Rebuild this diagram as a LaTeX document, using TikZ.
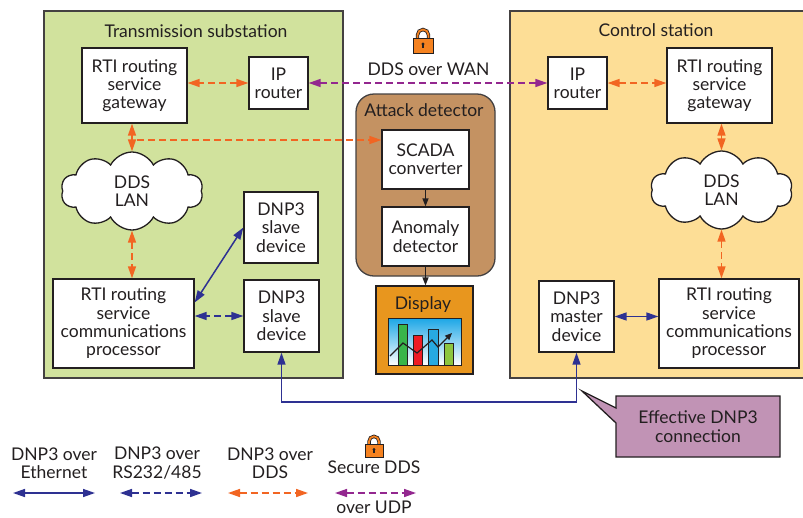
\documentclass[tikz,border=0pt]{standalone}
\usepackage{fontspec}
\setmainfont{Lato}
\usetikzlibrary{arrows.meta,shapes.symbols,calc}

\definecolor{ink}{HTML}{231F20}
\definecolor{subgreen}{HTML}{D1E29D}
\definecolor{ctrlyellow}{HTML}{FDDE96}
\definecolor{detbrown}{HTML}{C49262}
\definecolor{disporange}{HTML}{E8961E}
\definecolor{ddsorange}{HTML}{F26522}
\definecolor{wanpurple}{HTML}{93278F}
\definecolor{dnpblue}{HTML}{2E3192}
\definecolor{calloutmauve}{HTML}{C193B5}
\definecolor{lockorange}{HTML}{F58220}
\definecolor{barblue}{HTML}{27AAE1}
\definecolor{bargreen}{HTML}{39B54A}
\definecolor{barred}{HTML}{ED1C24}
\definecolor{barlime}{HTML}{8DC63F}
\definecolor{skyblue}{HTML}{1BA6E6}

\newcommand\diagfont{\fontsize{17.5}{18.3}\selectfont}

\tikzset{
  padlock/.pic={
    \draw[ink, line width=3.4pt] (-5.5,0) -- (-5.5,-3) arc[start angle=180,end angle=360,radius=5.5] -- (5.5,0);
    \draw[lockorange, line width=1.8pt] (-5.5,0.5) -- (-5.5,-3) arc[start angle=180,end angle=360,radius=5.5] -- (5.5,0.5);
    \draw[ink, line width=0.8pt, fill=lockorange] (-10,0) rectangle (10,15);
    \fill[ink] (0,6) circle[radius=1.7];
    \fill[ink] (-0.7,6) rectangle (0.7,10);
  }
}

\begin{document}
\begin{tikzpicture}[x=1pt,y=-1pt,
  >={Triangle[length=12pt,width=8pt]},
  txt/.style={text=ink,font=\diagfont,align=center,inner sep=0pt},
  box/.style={txt,draw=ink,line width=1.3pt,fill=white},
  cloudbox/.style={txt,cloud,cloud puffs=10,cloud puff arc=125,
    draw=ink,line width=1.3pt,fill=white,minimum width=142pt,minimum height=78pt},
  region/.style={draw=ink!85,line width=1.3pt},
  ddslink/.style={ddsorange,line width=1.5pt,dash pattern=on 7pt off 4pt},
  wanlink/.style={wanpurple,line width=1.5pt,dash pattern=on 7pt off 4pt},
  serlink/.style={dnpblue,line width=1.5pt,dash pattern=on 7pt off 4pt},
  ethlink/.style={dnpblue,line width=1.5pt},
  flow/.style={ink,line width=1.3pt,-{Triangle[length=8pt,width=6pt]}},
]
\useasboundingbox (0,0) rectangle (803,517);
\clip (0,0) rectangle (803,517);
\fill[white] (0,0) rectangle (803,517);

% ---------- site regions ----------
\draw[region,fill=subgreen] (44,11) rectangle (343,378);
\draw[region,fill=ctrlyellow] (510,11) rectangle (810,378);
\node[txt,anchor=base] (subtitle) at (196,37.5) {Transmission substation};
\node[txt,anchor=base] (ctrltitle) at (656,36.5) {Control station};

% ---------- attack detector ----------
\draw[region,fill=detbrown,rounded corners=18pt] (356,94) rectangle (495,276);
\node[txt,anchor=base] (dettitle) at (424,116) {Attack detector};
\node[box,minimum width=87pt,minimum height=59pt] (scada) at (425.5,159.5) {SCADA\\converter};
\node[box,minimum width=87pt,minimum height=59pt] (anomaly) at (425.5,236.5) {Anomaly\\detector};

% ---------- display with chart ----------
\node[draw=ink,line width=1.3pt,fill=disporange,minimum width=97pt,minimum height=88pt,inner sep=0pt] (display) at (424.5,330) {};
\node[txt,anchor=base] (disptitle) at (423,309) {Display};
\shade[top color=skyblue,bottom color=white] (388,318) rectangle (461,365);
\draw[ink,line width=1pt,fill=bargreen] (398,324) rectangle (407,365);
\draw[ink,line width=1pt,fill=barred] (413,335) rectangle (422,365);
\draw[ink,line width=1pt,fill=barblue] (428,329) rectangle (438,365);
\draw[ink,line width=1pt,fill=barlime] (444,343) rectangle (453,365);
\draw[ink,line width=1.2pt,-{Triangle[length=7pt,width=6pt]}]
  (390,356) -- (403,343) -- (417,353) -- (432,340) -- (438,347) -- (452,333);
\draw[ink,line width=1pt] (388,318) rectangle (461,365);

% ---------- substation nodes ----------
\node[box,minimum width=105pt,minimum height=75pt] (gw1) at (134.5,85.5) {RTI routing\\service\\gateway};
\node[box,minimum width=59pt,minimum height=52pt] (ipr1) at (278.5,83) {IP\\router};
\node[cloudbox] (lan1) at (132,191) {DDS\\LAN};
\node[box,minimum width=74pt,minimum height=71pt] (slave1) at (281,227.5) {DNP3\\slave\\device};
\node[box,minimum width=75pt,minimum height=72pt] (slave2) at (281.5,316) {DNP3\\slave\\device};
\node[box,minimum width=141pt,minimum height=89pt] (comm1) at (123.5,323.5) {RTI routing\\service\\communications\\processor};

% ---------- control station nodes ----------
\node[box,minimum width=59pt,minimum height=52pt] (ipr2) at (577.5,83) {IP\\router};
\node[box,minimum width=105pt,minimum height=75pt] (gw2) at (719.5,85.5) {RTI routing\\service\\gateway};
\node[cloudbox] (lan2) at (721.5,190) {DDS\\LAN};
\node[box,minimum width=75pt,minimum height=71pt] (master) at (576.5,316.5) {DNP3\\master\\device};
\node[box,minimum width=140pt,minimum height=89pt] (comm2) at (729,323.5) {RTI routing\\service\\communications\\processor};

% ---------- WAN link ----------
\pic at (423,38) {padlock};
\node[txt,anchor=base] (wanlabel) at (428.5,75) {DDS over WAN};
\draw[wanlink,<->] (ipr1.east) -- (ipr2.west);

% ---------- DDS links ----------
\draw[ddslink,<->] (ipr1.west) -- (ipr1.west -| gw1.east);
\draw[ddslink,<->] (ipr2.east) -- (ipr2.east -| gw2.west);
\draw[ddslink,<->] (lan1.north) -- (lan1.north |- gw1.south);
\draw[ddslink,<->] (lan1.south) -- (lan1.south |- comm1.north);
\draw[ddslink,<->] (lan2.north) -- (lan2.north |- gw2.south);
\draw[ddslink,<->] (lan2.south) -- (lan2.south |- comm2.north);
\coordinate (tap) at (132,140);
\draw[ddslink,->] ([xshift=5pt]tap) -- (tap -| scada.west);

% ---------- detector flow ----------
\draw[flow] (scada.south) -- (anomaly.north);
\draw[flow] (anomaly.south) -- (anomaly.south |- display.north);

% ---------- DNP3 links ----------
\draw[ethlink,<->] ([yshift=21pt]comm1.east) -- (slave1.west);
\draw[serlink,<->] (slave2.west) -- (slave2.west -| comm1.east);
\draw[ethlink,<->] (master.east) -- (master.east -| comm2.west);
\coordinate (bus) at (430,402);
\draw[ethlink,<->] (slave2.south) |- (bus) -| (master.south);

% ---------- callout ----------
\coordinate (calltip) at (582,391);
\draw[ink,line width=1.3pt,fill=calloutmauve]
  (616,396) -- (780,396) -- (780,457) -- (616,457) -- (616,423) -- (calltip) -- (616,408) -- cycle;
\node[txt] (callout) at (698,426.5) {Effective DNP3\\connection};

% ---------- legend ----------
\node[txt] (legeth) at (54,463) {DNP3 over\\Ethernet};
\node[txt] (legser) at (157,463) {DNP3 over\\RS232/485};
\node[txt] (legdds) at (270,463) {DNP3 over\\DDS};
\pic[scale=0.9] at (374,444) {padlock};
\node[txt] (legsec) at (374,467) {Secure DDS};
\node[txt] (legudp) at (374,507) {over UDP};
\coordinate (e1) at (13,493);  \coordinate (e2) at (95,493);
\coordinate (s1) at (120,493); \coordinate (s2) at (202,493);
\coordinate (d1) at (228,493); \coordinate (d2) at (308,493);
\coordinate (u1) at (335,493); \coordinate (u2) at (416,493);
\draw[ethlink,<->] (e1) -- (e2);
\draw[serlink,<->] (s1) -- (s2);
\draw[ddslink,<->] (d1) -- (d2);
\draw[wanlink,<->] (u1) -- (u2);
\end{tikzpicture}
\end{document}
